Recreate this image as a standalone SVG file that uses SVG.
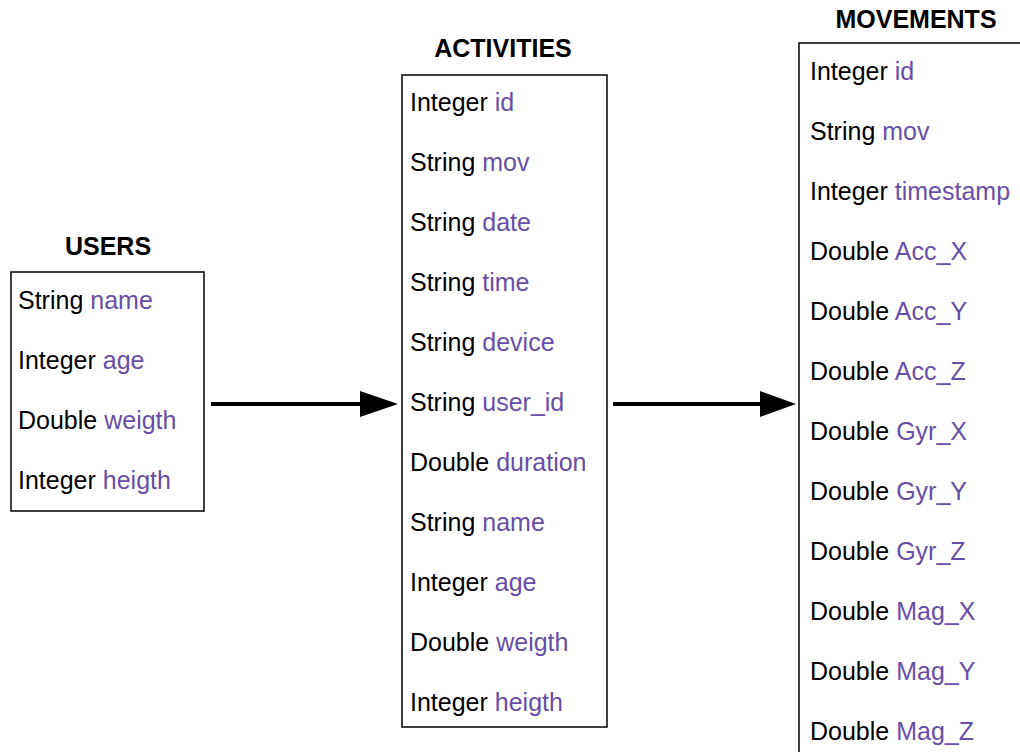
<svg xmlns="http://www.w3.org/2000/svg" width="1020" height="752" viewBox="0 0 1020 752">
<defs>
<style>
.t{font-family:"Liberation Sans",Arial,sans-serif;font-size:25px;fill:#000}
.v{fill:#674ea7}
.h{font-family:"Liberation Sans",Arial,sans-serif;font-size:25px;font-weight:bold;fill:#000;text-anchor:middle}
.box{fill:#fff;stroke:#000;stroke-width:1.5}
.con{stroke:#000;stroke-width:4;fill:none}
</style>
</defs>
<rect width="1020" height="752" fill="#fff"/>
<g id="users">
<text class="h" x="108" y="255">USERS</text>
<rect class="box" x="11" y="272" width="193" height="239"/>
<text class="t" x="18" y="309">String <tspan class="v">name</tspan></text>
<text class="t" x="18" y="369">Integer <tspan class="v">age</tspan></text>
<text class="t" x="18" y="429">Double <tspan class="v">weigth</tspan></text>
<text class="t" x="18" y="489">Integer <tspan class="v">heigth</tspan></text>
</g>
<g id="activities">
<text class="h" x="503" y="57">ACTIVITIES</text>
<rect class="box" x="402" y="75" width="205" height="652"/>
<text class="t" x="410" y="111">Integer <tspan class="v">id</tspan></text>
<text class="t" x="410" y="171">String <tspan class="v">mov</tspan></text>
<text class="t" x="410" y="231">String <tspan class="v">date</tspan></text>
<text class="t" x="410" y="291">String <tspan class="v">time</tspan></text>
<text class="t" x="410" y="351">String <tspan class="v">device</tspan></text>
<text class="t" x="410" y="411">String <tspan class="v">user_id</tspan></text>
<text class="t" x="410" y="471">Double <tspan class="v">duration</tspan></text>
<text class="t" x="410" y="531">String <tspan class="v">name</tspan></text>
<text class="t" x="410" y="591">Integer <tspan class="v">age</tspan></text>
<text class="t" x="410" y="651">Double <tspan class="v">weigth</tspan></text>
<text class="t" x="410" y="711">Integer <tspan class="v">heigth</tspan></text>
</g>
<g id="movements">
<text class="h" x="916" y="28">MOVEMENTS</text>
<rect class="box" x="799" y="43" width="240" height="730"/>
<text class="t" x="810" y="80">Integer <tspan class="v">id</tspan></text>
<text class="t" x="810" y="140">String <tspan class="v">mov</tspan></text>
<text class="t" x="810" y="200">Integer <tspan class="v">timestamp</tspan></text>
<text class="t" x="810" y="260">Double <tspan class="v">Acc_X</tspan></text>
<text class="t" x="810" y="320">Double <tspan class="v">Acc_Y</tspan></text>
<text class="t" x="810" y="380">Double <tspan class="v">Acc_Z</tspan></text>
<text class="t" x="810" y="440">Double <tspan class="v">Gyr_X</tspan></text>
<text class="t" x="810" y="500">Double <tspan class="v">Gyr_Y</tspan></text>
<text class="t" x="810" y="560">Double <tspan class="v">Gyr_Z</tspan></text>
<text class="t" x="810" y="620">Double <tspan class="v">Mag_X</tspan></text>
<text class="t" x="810" y="680">Double <tspan class="v">Mag_Y</tspan></text>
<text class="t" x="810" y="740">Double <tspan class="v">Mag_Z</tspan></text>
</g>
<g id="connectors">
<line class="con" x1="211" y1="404" x2="362" y2="404"/>
<path d="M360,391 L398,404 L360,417 Z" fill="#000"/>
<line class="con" x1="613" y1="404" x2="762" y2="404"/>
<path d="M760,391 L796,404 L760,417 Z" fill="#000"/>
</g>
</svg>
